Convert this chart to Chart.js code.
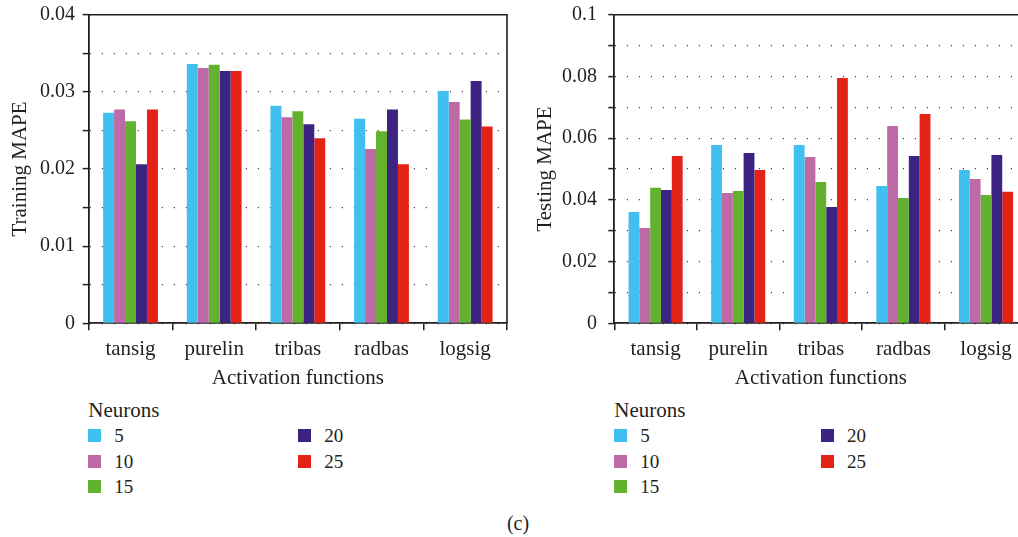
<!DOCTYPE html>
<html>
<head>
<meta charset="utf-8">
<title>Training and testing MAPE by activation function</title>
<script src="https://cdn.jsdelivr.net/npm/chart.js@4.4.1/dist/chart.umd.min.js"></script>
<style>
  html, body { margin: 0; padding: 0; width: 1018px; height: 537px; overflow: hidden; background: #fff; }
  body { position: relative; font-family: "Liberation Serif", serif; color: #231f20; }
  .panel { position: absolute; top: 0; width: 520px; height: 391px; }
  #panelL { left: 0; }
  #panelR { left: 520px; }
  .legend { position: absolute; top: 0; left: 0; width: 0; height: 0; }
  .legend .ttl { position: absolute; font-size: 21px; line-height: 21px; white-space: nowrap; }
  .legend .sw { position: absolute; width: 13px; height: 13px; }
  .legend .lb { position: absolute; font-size: 19px; line-height: 19px; white-space: nowrap; }
  #caption { position: absolute; left: 0; width: 1036px; top: 513px; text-align: center; font-size: 20px; line-height: 20px; }
</style>
</head>
<body>
<div class="panel" id="panelL"><canvas id="trainChart" width="520" height="391"></canvas></div>
<div class="panel" id="panelR"><canvas id="testChart" width="520" height="391"></canvas></div>
<div class="legend" id="legendL"></div>
<div class="legend" id="legendR"></div>
<div id="caption">(c)</div>

<script>
// Activation functions on the category axis
const activations = ['tansig', 'purelin', 'tribas', 'radbas', 'logsig'];

// Hidden-layer sizes (one series per size)
const neurons = ['5', '10', '15', '20', '25'];
const neuronColors = ['#41bfef', '#be6aa7', '#62b22f', '#3d2482', '#e42316'];

// Training MAPE per neuron count
const trainMape5  = [0.0273, 0.0336, 0.0282, 0.0265, 0.0301];
const trainMape10 = [0.0277, 0.0331, 0.0267, 0.0226, 0.0287];
const trainMape15 = [0.0262, 0.0335, 0.0275, 0.0249, 0.0264];
const trainMape20 = [0.0206, 0.0327, 0.0258, 0.0277, 0.0314];
const trainMape25 = [0.0277, 0.0327, 0.0240, 0.0206, 0.0255];

// Testing MAPE per neuron count
const testMape5  = [0.0361, 0.0578, 0.0578, 0.0445, 0.0497];
const testMape10 = [0.0309, 0.0422, 0.0539, 0.0639, 0.0468];
const testMape15 = [0.0439, 0.0429, 0.0458, 0.0406, 0.0416];
const testMape20 = [0.0432, 0.0552, 0.0377, 0.0542, 0.0545];
const testMape25 = [0.0542, 0.0497, 0.0795, 0.0678, 0.0426];

// Labelled y ticks (minor ticks in between stay unlabelled)
const trainTickLabels = ['0', '0.01', '0.02', '0.03', '0.04'];
const testTickLabels  = ['0', '0.02', '0.04', '0.06', '0.08', '0.1'];

const INK = '#231f20';
const FONT = '"Liberation Serif", serif';

// Solid frame along the top and right of the plot area
const framePlugin = {
  id: 'frame',
  afterDatasetsDraw(chart) {
    const { ctx, chartArea: { left, top, right, bottom } } = chart;
    ctx.save();
    ctx.strokeStyle = INK;
    ctx.lineWidth = 1.6;
    ctx.beginPath();
    ctx.moveTo(left, top);
    ctx.lineTo(right, top);
    ctx.lineTo(right, bottom);
    ctx.stroke();
    ctx.restore();
  }
};

function makeChart(canvasId, seriesList, cfg) {
  const datasets = seriesList.map((vals, i) => ({
    label: neurons[i],
    data: vals,
    backgroundColor: neuronColors[i],
    borderWidth: 0,
    categoryPercentage: 0.655,
    barPercentage: 1.0
  }));
  return new Chart(document.getElementById(canvasId), {
    type: 'bar',
    data: { labels: activations, datasets },
    plugins: [framePlugin],
    options: {
      responsive: false,
      animation: false,
      layout: { padding: { left: 0, right: cfg.padRight, top: 14.7, bottom: 0 } },
      plugins: { legend: { display: false }, tooltip: { enabled: false } },
      scales: {
        x: {
          afterFit(s) { s.height = 67.7; s.paddingLeft = 0; s.paddingRight = 0; },
          grid: { offset: true, drawOnChartArea: false, drawTicks: true, tickLength: 7, color: INK, lineWidth: 1.5 },
          border: { display: true, color: INK, width: 1.8 },
          ticks: { padding: 6.8, color: INK, font: { family: FONT, size: 21 }, maxRotation: 0, autoSkip: false },
          title: { display: true, text: 'Activation functions', color: INK, font: { family: FONT, size: 21 }, padding: { top: 0, bottom: 0 } }
        },
        y: {
          min: 0,
          max: cfg.max,
          afterFit(s) { s.width = cfg.axisWidth; s.paddingTop = 0; s.paddingBottom = 0; },
          ticks: {
            stepSize: cfg.step,
            autoSkip: false,
            padding: cfg.labelPad,
            color: INK,
            font: { family: FONT, size: 20 },
            callback: (v, i) => (i % 2 === 0 ? cfg.tickLabels[i / 2] : '')
          },
          grid: { color: '#4a4a4a', lineWidth: 1.2, drawTicks: true, tickLength: 6, tickColor: INK, tickWidth: 1.5 },
          border: { display: true, color: INK, width: 1.8, dash: [1.2, 10.8] },
          title: { display: true, text: cfg.yTitle, color: INK, font: { family: FONT, size: 21 }, padding: { top: cfg.titlePad, bottom: 0 } }
        }
      }
    }
  });
}

const trainChart = makeChart('trainChart',
  [trainMape5, trainMape10, trainMape15, trainMape20, trainMape25],
  { max: 0.04, step: 0.005, tickLabels: trainTickLabels, yTitle: 'Training MAPE',
    axisWidth: 88.7, labelPad: 7.7, titlePad: 7.4, padRight: 13 });

const testChart = makeChart('testChart',
  [testMape5, testMape10, testMape15, testMape20, testMape25],
  { max: 0.1, step: 0.01, tickLabels: testTickLabels, yTitle: 'Testing MAPE',
    axisWidth: 94.3, labelPad: 11.3, titlePad: 12.4, padRight: 12.7 });

// "Neurons" legend: three rows per column, filled column by column
function buildLegend(chart, el, x0, col2) {
  const title = document.createElement('div');
  title.className = 'ttl';
  title.textContent = 'Neurons';
  title.style.left = x0 + 'px';
  title.style.top = '399.7px';
  el.appendChild(title);
  chart.data.datasets.forEach((ds, i) => {
    const col = Math.floor(i / 3), row = i % 3;
    const sx = col === 0 ? x0 : col2;
    const cy = 435.7 + row * 25.6;
    const sw = document.createElement('div');
    sw.className = 'sw';
    sw.style.left = sx + 'px';
    sw.style.top = (cy - 6.5) + 'px';
    sw.style.background = ds.backgroundColor;
    const lb = document.createElement('div');
    lb.className = 'lb';
    lb.textContent = ds.label;
    lb.style.left = (sx + 26) + 'px';
    lb.style.top = (cy - 9.5) + 'px';
    el.appendChild(sw);
    el.appendChild(lb);
  });
}
buildLegend(trainChart, document.getElementById('legendL'), 88.3, 298.3);
buildLegend(testChart, document.getElementById('legendR'), 614.3, 821);
</script>
</body>
</html>
